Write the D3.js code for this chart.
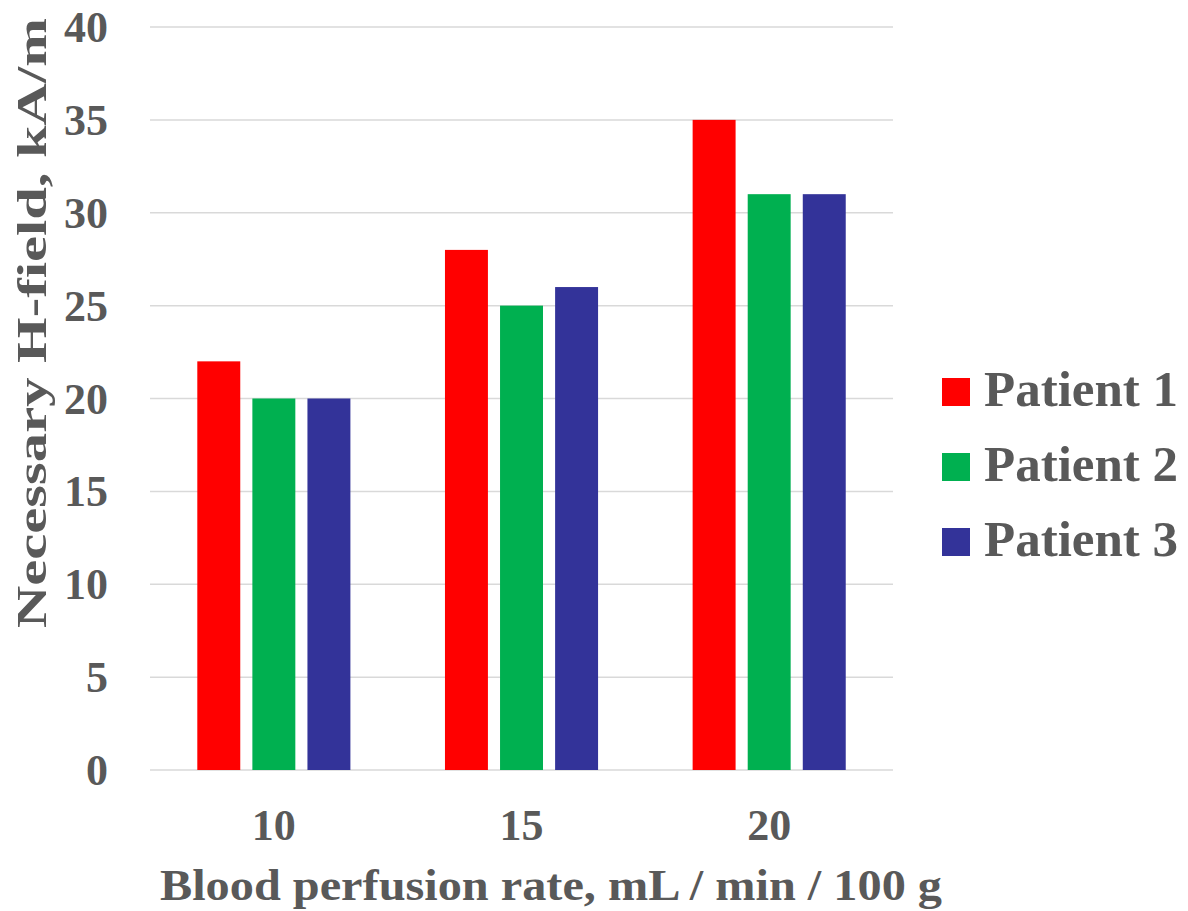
<html>
<head>
<style>
    body { margin: 0; background: #fff; }
    text { font-family: "Liberation Serif", "Times New Roman", serif; font-weight: bold; fill: #595959; }
    g.grid line { stroke: #d9d9d9; stroke-width: 1.5; }
</style>
</head>
<body>
<div id="target"></div>
<script src="https://cdnjs.cloudflare.com/ajax/libs/d3/7.8.5/d3.min.js"></script>
<script>
    // data
    var categories = ['10', '15', '20'];
    var series = ['Patient 1', 'Patient 2', 'Patient 3'];
    var patient1 = [22, 28, 35];
    var patient2 = [20, 25, 31];
    var patient3 = [20, 26, 31];
    var yTicks = [0, 5, 10, 15, 20, 25, 30, 35, 40];
    var colors = ['#ff0000', '#00b050', '#333399'];
    var values = [patient1, patient2, patient3];

    var W = 1188, H = 911;
    var svg = d3.select('#target').append('svg').attr('width', W).attr('height', H);

    var plotLeft = 150, plotRight = 893, plotTop = 27, plotBottom = 770;

    var y = d3.scaleLinear().domain([0, 40]).range([plotBottom, plotTop]);
    var x0 = d3.scaleBand().domain(categories).range([plotLeft, plotRight]);
    var x1 = d3.scaleBand().domain(series).range([47.3, 200.4]).paddingInner(0.22);

    // gridlines
    svg.append('g').attr('class', 'grid')
        .selectAll('line').data(yTicks).enter().append('line')
        .attr('x1', plotLeft).attr('x2', plotRight)
        .attr('y1', function (d) { return y(d); })
        .attr('y2', function (d) { return y(d); });

    // y tick labels
    svg.append('g').selectAll('text').data(yTicks).enter().append('text')
        .attr('x', 108)
        .attr('y', function (d) { return y(d) + 15; })
        .attr('text-anchor', 'end')
        .style('font-size', '44px')
        .text(function (d) { return d; });

    // bars
    var groups = svg.append('g').selectAll('g').data(categories).enter().append('g')
        .attr('transform', function (c) { return 'translate(' + x0(c) + ',0)'; });
    groups.selectAll('rect')
        .data(function (c, i) { return series.map(function (s, j) { return { s: s, v: values[j][i], j: j }; }); })
        .enter().append('rect')
        .attr('x', function (d) { return x1(d.s); })
        .attr('width', x1.bandwidth())
        .attr('y', function (d) { return y(d.v); })
        .attr('height', function (d) { return y(0) - y(d.v); })
        .attr('fill', function (d) { return colors[d.j]; });

    // x tick labels
    svg.append('g').selectAll('text').data(categories).enter().append('text')
        .attr('x', function (c) { return x0(c) + x0.bandwidth() / 2; })
        .attr('y', 840)
        .attr('text-anchor', 'middle')
        .style('font-size', '44px')
        .text(function (c) { return c; });

    // axis titles (stretched a bit, the original face is wider)
    svg.append('text')
        .attr('x', 160).attr('y', 900)
        .attr('textLength', 782)
        .attr('lengthAdjust', 'spacingAndGlyphs')
        .style('font-size', '44px')
        .text('Blood perfusion rate, mL / min / 100 g');

    svg.append('text')
        .attr('transform', 'translate(46,628) rotate(-90)')
        .attr('textLength', 610)
        .attr('lengthAdjust', 'spacingAndGlyphs')
        .style('font-size', '42px')
        .text('Necessary H-field, kA/m');

    // legend
    var legend = svg.append('g').selectAll('g').data(series).enter().append('g')
        .attr('transform', function (s, i) { return 'translate(942,' + (378 + i * 75) + ')'; });
    legend.append('rect').attr('width', 28).attr('height', 28)
        .attr('fill', function (s, i) { return colors[i]; });
    legend.append('text').attr('x', 42).attr('y', 28)
        .style('font-size', '51px')
        .text(function (s) { return s; });
</script>
</body>
</html>
